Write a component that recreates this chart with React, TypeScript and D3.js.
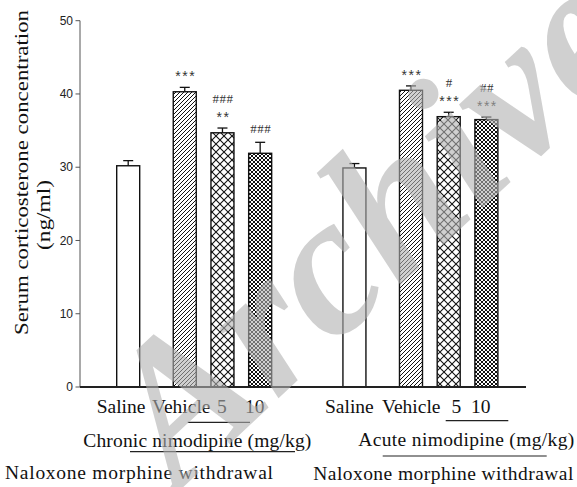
import React, { useEffect, useRef } from 'react';
import * as d3 from 'd3';

// values (ng/ml)
const groups = ['Chronic', 'Acute'];
const treatments = ['Saline', 'Vehicle', '5', '10'];
const chronicMean = [30.2, 40.3, 34.7, 31.9];
const chronicSem = [0.7, 0.6, 0.65, 1.5];
const acuteMean = [29.9, 40.5, 36.9, 36.5];
const acuteSem = [0.6, 0.6, 0.6, 0.35];
const chronicVsSaline = ['', '***', '**', ''];
const chronicVsVehicle = ['', '', '###', '###'];
const acuteVsSaline = ['', '***', '***', '***'];
const acuteVsVehicle = ['', '', '#', '##'];
const yTicks = [0, 10, 20, 30, 40, 50];
const patternIds = ['none', 'hatch', 'cross', 'fine'];

const W = 577;
const H = 487;
const serif = "'Liberation Serif', 'Times New Roman', Times, serif";
const sans = "'Liberation Sans', Arial, Helvetica, sans-serif";

const App: React.FC = () => {
  const ref = useRef<SVGSVGElement>(null);

  useEffect(() => {
    if (!ref.current) return;
    const svg = d3.select(ref.current);
    svg.selectAll('*').remove();

    const defs = svg.append('defs');
    const hatch = defs.append('pattern').attr('id', 'hatch')
      .attr('patternUnits', 'userSpaceOnUse').attr('width', 4).attr('height', 4);
    hatch.append('rect').attr('width', 4).attr('height', 4).attr('fill', '#fff');
    hatch.append('path').attr('d', 'M-1,1 l2,-2 M0,4 l4,-4 M3,5 l2,-2')
      .attr('stroke', '#111').attr('stroke-width', 1);

    const cross = defs.append('pattern').attr('id', 'cross')
      .attr('patternUnits', 'userSpaceOnUse').attr('width', 8).attr('height', 8);
    cross.append('rect').attr('width', 8).attr('height', 8).attr('fill', '#fff');
    cross.append('path').attr('d', 'M0,0 L8,8 M8,0 L0,8')
      .attr('stroke', '#111').attr('stroke-width', 1.1);

    const fine = defs.append('pattern').attr('id', 'fine')
      .attr('patternUnits', 'userSpaceOnUse').attr('width', 4).attr('height', 4);
    fine.append('rect').attr('width', 4).attr('height', 4).attr('fill', '#fff');
    fine.append('path').attr('d', 'M0,0 L4,4 M4,0 L0,4')
      .attr('stroke', '#111').attr('stroke-width', 1);

    const y = d3.scaleLinear().domain([0, 50]).range([387, 20.7]);
    // slot layout: saline, gap, vehicle, 5, 10 then the second group
    const x = d3.scaleLinear().domain([0, 9.5]).range([116.7, 474.9]);
    const barW = 23;
    const slot = (g: number, i: number) => g * 6 + (i === 0 ? 0 : i + 0.5);

    const bars = groups.flatMap((g, gi) =>
      treatments.map((t, i) => ({
        group: g,
        treatment: t,
        mean: gi === 0 ? chronicMean[i] : acuteMean[i],
        sem: gi === 0 ? chronicSem[i] : acuteSem[i],
        marks: (gi === 0
          ? [chronicVsSaline[i], chronicVsVehicle[i]]
          : [acuteVsSaline[i], acuteVsVehicle[i]]).filter(m => m),
        pos: slot(gi, i),
        pattern: patternIds[i]
      }))
    );

    // y axis
    svg.append('line')
      .attr('x1', 80).attr('x2', 80)
      .attr('y1', y(50)).attr('y2', y(0))
      .attr('stroke', '#555').attr('stroke-width', 1);
    const ticks = svg.append('g');
    ticks.selectAll('line').data(yTicks).join('line')
      .attr('x1', 75.5).attr('x2', 80)
      .attr('y1', d => y(d)).attr('y2', d => y(d))
      .attr('stroke', '#555').attr('stroke-width', 1);
    ticks.selectAll('text').data(yTicks).join('text')
      .attr('x', 73).attr('y', d => y(d) + 4.2)
      .attr('text-anchor', 'end')
      .style('font-family', sans)
      .style('font-size', '12px')
      .attr('fill', '#222')
      .text(d => d);

    // bars
    svg.append('g').selectAll('rect').data(bars).join('rect')
      .attr('x', d => x(d.pos))
      .attr('y', d => y(d.mean))
      .attr('width', barW)
      .attr('height', d => y(0) - y(d.mean))
      .attr('fill', d => d.pattern === 'none' ? '#fff' : `url(#${d.pattern})`)
      .attr('stroke', '#111')
      .attr('stroke-width', 1.4);

    // error bars (upper only)
    const err = svg.append('g').attr('stroke', '#111').attr('stroke-width', 1.3);
    bars.forEach(d => {
      const cx = x(d.pos) + barW / 2;
      err.append('line').attr('x1', cx).attr('x2', cx)
        .attr('y1', y(d.mean)).attr('y2', y(d.mean + d.sem));
      err.append('line').attr('x1', cx - 5).attr('x2', cx + 5)
        .attr('y1', y(d.mean + d.sem)).attr('y2', y(d.mean + d.sem));
    });

    // significance marks
    bars.forEach(d => {
      const cx = x(d.pos) + barW / 2;
      let cy = y(d.mean + d.sem) - 14;
      d.marks.forEach(m => {
        const star = m.startsWith('*');
        svg.append('text')
          .attr('x', cx + (star ? 1 : 0.5))
          .attr('y', cy + (star ? 8 : 4.5))
          .attr('text-anchor', 'middle')
          .style('font-family', star ? sans : serif)
          .style('font-size', star ? '14px' : '13px')
          .style('letter-spacing', star ? '1.5px' : '0.5px')
          .attr('fill', '#333')
          .text(m);
        cy -= 16;
      });
    });

    // x axis
    svg.append('line')
      .attr('x1', 80).attr('x2', 526)
      .attr('y1', y(0)).attr('y2', y(0))
      .attr('stroke', '#222').attr('stroke-width', 2);

    const label = (txt: string, x0: number, base: number, size: number, len?: number) => {
      const t = svg.append('text')
        .attr('x', x0).attr('y', base)
        .style('font-family', serif)
        .style('font-size', `${size}px`)
        .attr('fill', '#111')
        .text(txt);
      if (len) t.attr('textLength', len).attr('lengthAdjust', 'spacing');
      return t;
    };
    const rule = (x1: number, x2: number, yy: number) =>
      svg.append('line').attr('x1', x1).attr('x2', x2).attr('y1', yy).attr('y2', yy)
        .attr('stroke', '#222').attr('stroke-width', 1.2);

    // treatment labels
    const row1 = [
      [96.7, 152, 217, 245],
      [325, 382, 451.5, 471]
    ];
    groups.forEach((g, gi) => {
      treatments.forEach((t, i) => label(t, row1[gi][i], 413.3, 19.5));
    });
    rule(187.7, 250, 422.3);
    rule(445.7, 508.3, 420.7);

    label('Chronic nimodipine (mg/kg)', 83.3, 446.7, 19.5, 228);
    rule(130, 295, 451.7);
    label('Acute  nimodipine (mg/kg)', 358.3, 446, 19.5, 216);
    rule(382.7, 546.7, 456);

    label('Naloxone  morphine withdrawal', 5, 479, 19.5, 268);
    label('Naloxone morphine  withdrawal', 313.3, 480, 19.5, 260);

    // y axis title
    svg.append('text')
      .attr('transform', 'translate(28,172.5) rotate(-90)')
      .attr('text-anchor', 'middle')
      .style('font-family', serif)
      .style('font-size', '18px')
      .attr('fill', '#111')
      .attr('textLength', 325)
      .attr('lengthAdjust', 'spacingAndGlyphs')
      .text('Serum corticosterone concentration');
    svg.append('text')
      .attr('transform', 'translate(50,215) rotate(-90)')
      .attr('text-anchor', 'middle')
      .style('font-family', serif)
      .style('font-size', '18px')
      .attr('fill', '#111')
      .attr('textLength', 70)
      .attr('lengthAdjust', 'spacingAndGlyphs')
      .text('(ng/ml)');

    // archive watermark
    svg.append('text')
      .attr('transform', 'translate(178,492) rotate(-43)')
      .style('font-family', serif)
      .style('font-size', '200px')
      .style('font-style', 'italic')
      .style('font-weight', 'bold')
      .attr('fill', '#b0b0b0')
      .attr('fill-opacity', 0.6)
      .text('Archive');
  }, []);

  return (
    <div style={{ position: 'absolute', left: 0, top: 0, width: W, height: H, background: '#fff', overflow: 'hidden' }}>
      <svg ref={ref} width={W} height={H} />
    </div>
  );
};

export default App;
